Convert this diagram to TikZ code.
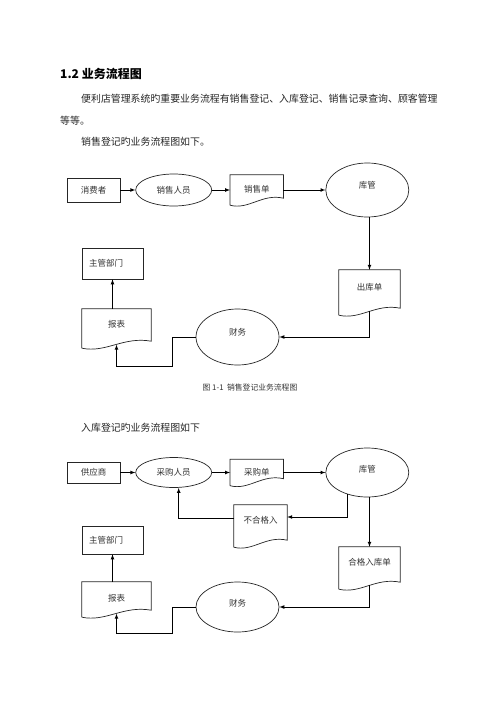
\documentclass[tikz,border=0pt]{standalone}
\usepackage{fontspec}
\setmainfont{Noto Sans CJK SC}
\usepackage{tikz}
\usetikzlibrary{shapes,arrows,positioning,calc}

\tikzstyle{block} = [rectangle, draw=black!85, line width=0.7pt, text=black!80, minimum width=53pt, minimum height=24pt, font=\fontsize{8.5pt}{10pt}\selectfont]
\tikzstyle{actor} = [ellipse, draw=black!85, line width=0.7pt, text=black!80, inner sep=0pt, font=\fontsize{8.5pt}{10pt}\selectfont]
\tikzstyle{doc} = [rectangle, inner sep=0pt, text depth=10pt, text=black!80, font=\fontsize{8.5pt}{10pt}\selectfont]
\tikzstyle{line} = [draw, line width=0.7pt, -latex]
\tikzstyle{para} = [anchor=west, inner sep=0pt, text=black!85, font=\fontsize{9.9pt}{12pt}\selectfont]

% document outline with wavy bottom
\newcommand{\docframe}[1]{%
  \draw[draw=black!85, line width=0.7pt] (#1.south west) -- (#1.north west) -- (#1.north east) -- ([yshift=7pt]#1.south east)
    .. controls ($(#1.south west)!0.6!(#1.south east)+(0,-12)$) and ($(#1.south west)!0.35!(#1.south east)+(0,5)$) .. (#1.south west);}

\begin{document}
\begin{tikzpicture}[x=1pt, y=-1pt]
            \fill[white] (0,0) rectangle (500,707);
            \useasboundingbox (0,0) rectangle (500,707);

            \node[anchor=west, inner sep=0pt, font=\fontsize{12pt}{14pt}\selectfont\bfseries] (title) at (60,74) {1.2 业务流程图};
            \node[para] (intro1) at (81,99) {便利店管理系统旳重要业务流程有销售登记、入库登记、销售记录查询、顾客管理};
            \node[para] (intro2) at (60,121) {等等。};
            \node[para] (intro3) at (81,142) {销售登记旳业务流程图如下。};

            % sales flow
            \node[block] (consumer) at (93.5,190) {消费者};
            \node[actor, minimum width=76pt, minimum height=32pt, right=15pt of consumer] (seller) {销售人员};
            \path[line] (consumer) -- (seller);

            \node[doc, minimum width=53pt, minimum height=30pt, text depth=2pt, right=18pt of seller] (sales_bill) {销售单};
            \docframe{sales_bill}
            \path[line] (seller) -- (sales_bill);

            \node[actor, minimum width=83pt, minimum height=54pt, text depth=11pt, right=42pt of sales_bill] (keeper) {库管};
            \path[line] (sales_bill) -- (keeper);

            \node[doc, minimum width=61pt, minimum height=45pt, text depth=12pt] (out_bill) at (369.5,292.5) {出库单};
            \docframe{out_bill}
            \path[line] (out_bill.north |- keeper.south) -- (out_bill.north);

            \node[actor, minimum width=83pt, minimum height=56pt, text depth=11pt] (finance) at (237.5,337) {财务};
            \path[line] ([yshift=4pt]out_bill.south) |- (finance.east);

            \node[doc, minimum width=69pt, minimum height=39pt] (report) at (116.5,328.5) {报表};
            \docframe{report}
            \path[line] (finance.west) -- ++(-23,0) -- ++(0,29) -| ([yshift=3.5pt]report.south);

            \node[block, minimum width=61pt, minimum height=31pt, text width=47pt, align=left] (boss) at (112.5,263.5) {主管部门};
            \path[line] (boss.south |- report.north) -- (boss.south);

            \node[inner sep=0pt, text=black!80, font=\fontsize{7.8pt}{9pt}\selectfont] (caption) at (250,388) {图 1-1\ \ 销售登记业务流程图};

            \node[para] (intro4) at (81,428) {入库登记旳业务流程图如下};

            % stock-in flow
            \node[block, minimum height=21pt] (supplier) at (93.5,472.5) {供应商};
            \node[actor, minimum width=76pt, minimum height=30pt, right=15pt of supplier] (buyer) {采购人员};
            \path[line] (supplier) -- (buyer);

            \node[doc, minimum width=53pt, minimum height=26pt, text depth=2pt, right=18pt of buyer] (buy_bill) {采购单};
            \docframe{buy_bill}
            \path[line] (buyer) -- (buy_bill);

            \node[actor, minimum width=83pt, minimum height=49pt, text depth=8pt, right=42pt of buy_bill] (keeper_in) {库管};
            \path[line] (buy_bill) -- (keeper_in);

            \node[doc, minimum width=53pt, minimum height=42pt, text depth=13pt] (reject) at (260.5,526) {不合格入};
            \docframe{reject}
            \path[line] (keeper_in.228) |- ([yshift=9pt]reject.east);
            \path[line] ([yshift=8pt]reject.west) -| ([xshift=5pt]buyer.south);

            \node[doc, minimum width=61pt, minimum height=42pt, text depth=13pt] (pass_bill) at (369.5,568) {合格入库单};
            \docframe{pass_bill}
            \path[line] (pass_bill.north |- keeper_in.south) -- (pass_bill.north);

            \node[actor, minimum width=83pt, minimum height=50pt, text depth=8pt] (finance_in) at (237.5,607) {财务};
            \path[line] ([yshift=4pt]pass_bill.south) |- (finance_in.east);

            \node[doc, minimum width=69pt, minimum height=35pt, text depth=4pt] (report_in) at (116.5,599.5) {报表};
            \docframe{report_in}
            \path[line] (finance_in.west) -- ++(-23,0) -- ++(0,26) -| ([yshift=3.5pt]report_in.south);

            \node[block, minimum width=61pt, minimum height=28pt, text width=47pt, align=left] (boss_in) at (112.5,540) {主管部门};
            \path[line] (boss_in.south |- report_in.north) -- (boss_in.south);
        \end{tikzpicture}
\end{document}
